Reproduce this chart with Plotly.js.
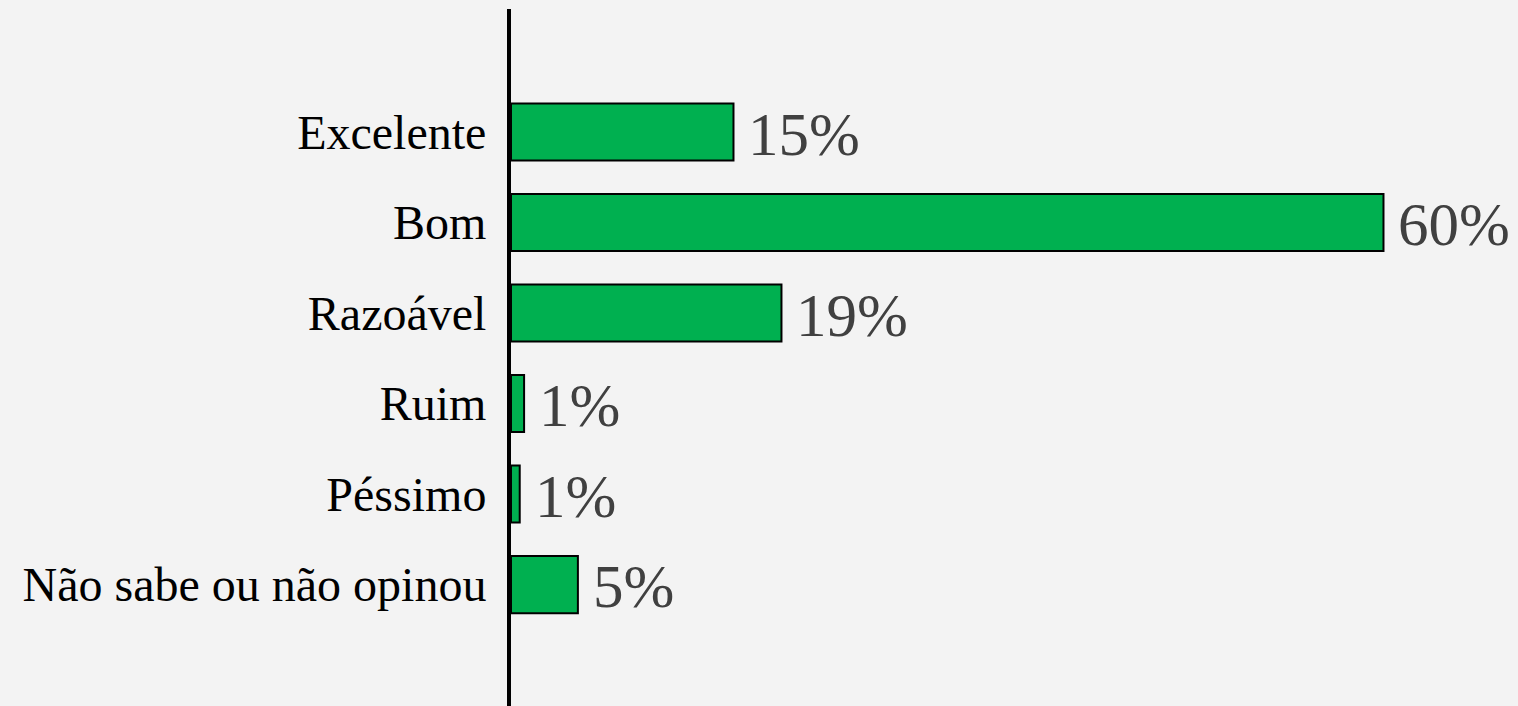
<!DOCTYPE html>
<html>
<head>
<meta charset="utf-8">
<script src="https://cdn.plot.ly/plotly-3.0.1.min.js"></script>
<style>html,body{margin:0;padding:0;background:#f3f3f3;}#chart{width:1518px;height:706px;}</style>
</head>
<body>
<div id="chart"></div>
<script>
var categories = ["Excelente", "Bom", "Razoável", "Ruim", "Péssimo", "Não sabe ou não opinou"];
var values = [15.3, 60, 18.6, 0.9, 0.6, 4.6];
var valueLabels = ["15%", "60%", "19%", "1%", "1%", "5%"];

var trace = {
  type: "bar",
  orientation: "h",
  x: values,
  y: categories,
  width: 0.63,
  marker: {color: "#00b050", line: {color: "#000000", width: 2}},
  hoverinfo: "none"
};

var annotations = values.map(function (v, i) {
  return {
    x: v, y: categories[i], xref: "x", yref: "y",
    text: valueLabels[i], showarrow: false,
    xanchor: "left", yanchor: "middle", xshift: 13, yshift: -2,
    font: {family: "Liberation Serif, Times New Roman, serif", size: 61, color: "#404040"}
  };
});

var layout = {
  width: 1518, height: 706,
  paper_bgcolor: "#f3f3f3", plot_bgcolor: "#f3f3f3",
  margin: {l: 511, r: 0, t: 9, b: 0, pad: 0},
  showlegend: false,
  xaxis: {range: [0, 69.25], visible: false, showgrid: false, zeroline: false, fixedrange: true},
  yaxis: {
    type: "category",
    range: [6.341, -1.359],
    showline: true, linecolor: "#000000", linewidth: 4,
    showgrid: false, zeroline: false, ticks: "",
    ticklabelstandoff: 11,
    tickfont: {family: "Liberation Serif, Times New Roman, serif", size: 48, color: "#000000"}
  },
  annotations: annotations
};

Plotly.newPlot("chart", [trace], layout, {displayModeBar: false, staticPlot: true});
</script>
</body>
</html>
